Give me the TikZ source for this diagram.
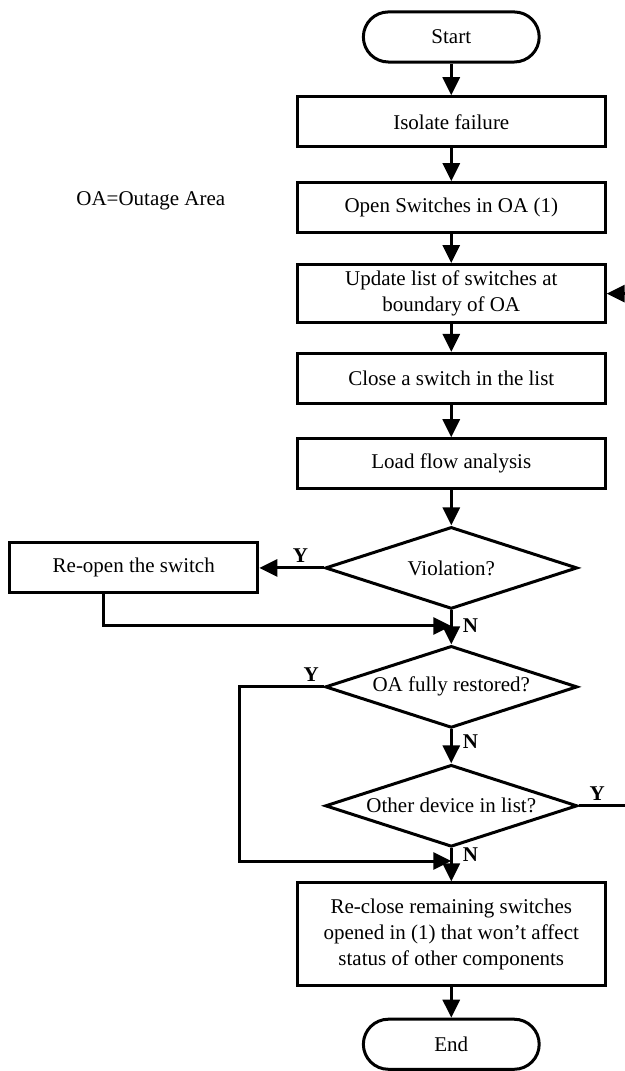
\documentclass[tikz,border=0pt]{standalone}
\usepackage{fontspec}
\setmainfont{Liberation Serif}
\usetikzlibrary{arrows.meta,shapes.geometric}

\begin{document}
\begin{tikzpicture}[
    every node/.style={font=\fontsize{10.5}{12.8}\selectfont},
    terminal/.style={draw, line width=1.5pt, rounded corners=0.44cm,
      minimum width=3.09cm, minimum height=0.88cm},
    procbox/.style={draw, line width=1.5pt, minimum width=5.41cm,
      minimum height=0.88cm, align=center},
    decision/.style={draw, diamond, line width=1.5pt, aspect=3, inner sep=0pt,
      minimum width=4.43cm, minimum height=1.44cm},
    arr/.style={line width=1.5pt, -{Triangle[width=8.5pt,length=9pt]}},
    lbl/.style={font=\fontsize{10.5}{12.8}\selectfont\bfseries, inner sep=2pt}]
    \useasboundingbox (0,0) rectangle (10.98,18.82);
    \node[terminal] (st) at (7.93, 18.17) {Start};
    \node[procbox]  (iso) at (7.93, 16.68) {Isolate failure};
    \node[procbox]  (opn) at (7.93, 15.17) {Open Switches in OA (1)};
    \node[procbox]  (upd) at (7.93, 13.66) {Update list of switches at\\boundary of OA};
    \node[procbox]  (cls) at (7.93, 12.17) {Close a switch in the list};
    \node[procbox]  (lfa) at (7.93, 10.67) {Load flow analysis};
    \node[decision] (vio) at (7.93, 8.84) {Violation?};
    \node[procbox, minimum width=4.36cm] (reo) at (2.35, 8.84) {Re-open the switch};
    \node[decision] (oar) at (7.93, 6.75) {OA fully restored?};
    \node[decision] (odv) at (7.93, 4.66) {Other device in list?};
    \node[procbox, minimum height=1.81cm] (rcl) at (7.93, 2.40)
      {Re-close remaining switches\\opened in (1) that won't affect\\status of other components};
    \node[terminal] (en) at (7.93, 0.47) {End};
    \node (oa) at (2.65, 15.29) {OA=Outage Area};
    \coordinate (j1) at (7.93, 7.82);
    \coordinate (j2) at (7.93, 3.69);
    \coordinate (rin) at (10.98, 13.66);
    \coordinate (rout) at (10.98, 4.66);
    \draw [arr] (st) to (iso);
    \draw [arr] (iso) to (opn);
    \draw [arr] (opn) to (upd);
    \draw [arr] (upd) to (cls);
    \draw [arr] (cls) to (lfa);
    \draw [arr] (lfa) to (vio);
    \draw [arr] (rin) to (upd);
    \draw [arr] (vio) to node[lbl, right, pos=0.45, xshift=3pt] {N} (oar);
    \draw [arr] (vio.west) to node[lbl, above, pos=0.36] {Y} (reo);
    \draw [arr] ([xshift=-0.54cm]reo.south) |- (j1);
    \draw [arr] (oar) to node[lbl, right, pos=0.35, xshift=3pt] {N} (odv);
    \draw [arr] (oar.west) -- node[lbl, above, pos=0.15] {Y} ++(-1.48,0) |- (j2);
    \draw [line width=1.5pt] (odv.east) to node[lbl, above, pos=0.4] {Y} (rout);
    \draw [arr] (odv) to node[lbl, right, pos=0.2, xshift=3pt] {N} (rcl);
    \draw [arr] (rcl) to (en);
  \end{tikzpicture}
\end{document}
